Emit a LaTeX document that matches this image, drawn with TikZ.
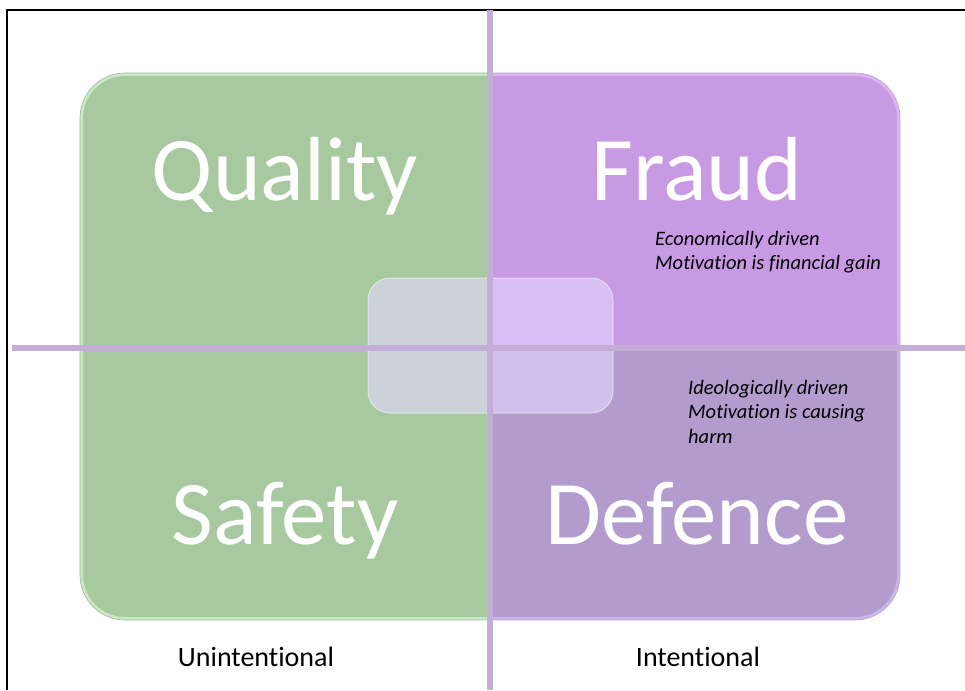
\documentclass[tikz,border=0pt]{standalone}
\usepackage{fontspec}
\setmainfont{Carlito}[Ligatures=NoCommon]
\definecolor{qgreen}{HTML}{A8C9A0}
\definecolor{qgreenrim}{HTML}{C6EBBE}
\definecolor{ftop}{HTML}{C89AE3}
\definecolor{ftoprim}{HTML}{DFB2F8}
\definecolor{dbot}{HTML}{B39CCD}
\definecolor{dbotrim}{HTML}{CBB4EE}
\definecolor{boxtint}{HTML}{E4D9FF}
\definecolor{divline}{HTML}{C4ADD6}
\begin{document}
\begin{tikzpicture}[x=1pt,y=-1pt,
    big/.style={text=white,anchor=base,inner sep=0pt,font=\fontsize{91}{91}\selectfont},
    note/.style={anchor=north west,inner sep=0pt,align=left,font=\fontsize{20.5}{24.5}\selectfont\itshape},
    axis/.style={anchor=base,inner sep=0pt,font=\fontsize{28}{28}\selectfont},
    divider/.style={divline,line width=6pt}]
    \useasboundingbox (0,0) rectangle (965,690);
    \fill[white] (0,0) rectangle (965,690);
    \draw[line width=2pt] (7,690) -- (7,10) -- (965,10);

    % four quadrants
    \begin{scope}
        \clip[rounded corners=45pt] (80,73) rectangle (900,620);
        \fill[qgreen] (80,73) rectangle (490,620);
        \fill[ftop] (490,73) rectangle (900,348);
        \fill[dbot] (490,348) rectangle (900,620);
        \begin{scope}
            \clip (80,73) rectangle (490,620);
            \draw[qgreenrim,line width=6pt,rounded corners=45pt] (80,73) rectangle (900,620);
        \end{scope}
        \begin{scope}
            \clip (490,73) rectangle (900,348);
            \draw[ftoprim,line width=6pt,rounded corners=45pt] (80,73) rectangle (900,620);
        \end{scope}
        \begin{scope}
            \clip (490,348) rectangle (900,620);
            \draw[dbotrim,line width=6pt,rounded corners=45pt] (80,73) rectangle (900,620);
        \end{scope}
    \end{scope}
    \draw[black!30,line width=0.6pt,rounded corners=45pt] (80,73) rectangle (900,620);

    % centre box
    \fill[boxtint,opacity=0.6,rounded corners=22pt] (368,278) rectangle (613,413);
    \draw[white,opacity=0.5,line width=1pt,rounded corners=22pt] (368,278) rectangle (613,413);

    % axes
    \draw[divider] (490,10) -- (490,690);
    \draw[divider] (12,348) -- (965,348);

    \node[big] (quality) at (285,200) {Quality};
    \node[big] (fraud) at (697,200) {Fraud};
    \node[big] (safety) at (285,544) {Safety};
    \node[big] (defence) at (697,544) {Defence};

    \node[note] (fraudnote) at (655,231) {Economically driven\\Motivation is financial gain};
    \node[note] (defnote) at (688,380) {Ideologically driven\\Motivation is causing\\harm};

    \node[axis] (unint) at (256,666) {Unintentional};
    \node[axis] (int) at (698,666) {Intentional};
\end{tikzpicture}
\end{document}
